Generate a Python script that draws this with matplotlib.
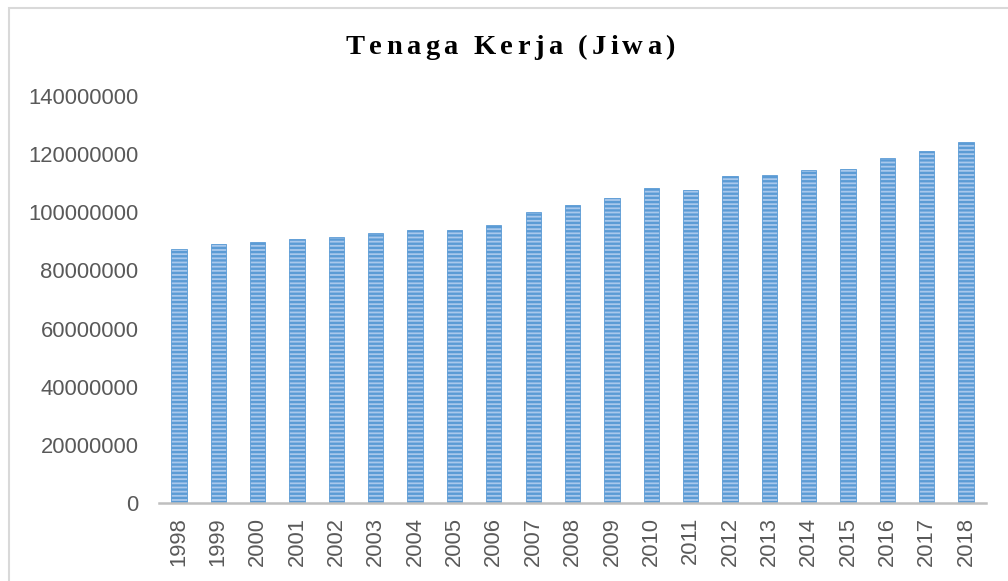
import matplotlib
matplotlib.use("Agg")
import matplotlib.pyplot as plt
from matplotlib.patches import Rectangle
from matplotlib.font_manager import FontProperties

years = ["1998", "1999", "2000", "2001", "2002", "2003", "2004", "2005", "2006",
         "2007", "2008", "2009", "2010", "2011", "2012", "2013", "2014", "2015",
         "2016", "2017", "2018"]
tenaga_kerja = [87200000, 89000000, 89900000, 90700000, 91600000, 92900000,
                93800000, 93800000, 95500000, 100000000, 102600000, 104900000,
                108400000, 107600000, 112400000, 112800000, 114600000, 115000000,
                118600000, 121200000, 124300000]
y_ticks = [0, 20000000, 40000000, 60000000, 80000000, 100000000, 120000000, 140000000]
title = "Tenaga Kerja (Jiwa)"

plt.rcParams["hatch.linewidth"] = 1.7

W, H = 1008, 581
fig = plt.figure(figsize=(W / 100, H / 100), dpi=100)
ax = fig.add_axes([0.158, 0.134, 0.820, 0.701])

x = list(range(len(years)))
ax.bar(x, tenaga_kerja, width=0.39, color="#a9c8ec", edgecolor="#5b9bd5",
       linewidth=0.6, hatch="----")

ax.set_xlim(-0.5, len(years) - 0.5)
ax.set_ylim(0, 140000000)
ax.set_yticks(y_ticks)
ax.set_yticklabels([str(v) for v in y_ticks])
ax.set_xticks(x)
ax.set_xticklabels(years, rotation=90)

for s in ["top", "right", "left"]:
    ax.spines[s].set_visible(False)
ax.spines["bottom"].set_color("#bfbfbf")
ax.spines["bottom"].set_linewidth(1.8)
ax.tick_params(axis="both", length=0, colors="#595959", labelsize=15.8)
ax.tick_params(axis="y", pad=15)
ax.tick_params(axis="x", pad=10)
for lab in ax.get_xticklabels() + ax.get_yticklabels():
    lab.set_fontfamily("Liberation Sans")

# letter-spaced title, placed character by character
prop = FontProperties(family="Liberation Serif", weight="bold", size=20.5)
renderer = fig.canvas.get_renderer()


def text_width(s):
    w, _, _ = renderer.get_text_width_height_descent(s, prop, ismath=False)
    return w


space_w = text_width("a a") - text_width("aa")
chars = list(title)
widths = [space_w if c == " " else text_width(c) for c in chars]
x_start, x_end = 346, 675
gap = (x_end - x_start - sum(widths)) / (len(chars) - 1)
cx = x_start
for c, w in zip(chars, widths):
    if c != " ":
        fig.text(cx / W, 1 - 48 / H, c, ha="left", va="center",
                 fontproperties=prop, color="#000000")
    cx += w + gap

# outer chart border (left and top visible)
fig.patches.append(Rectangle((9 / W, -0.05), 1.1, 1 - 8 / H + 0.05,
                             transform=fig.transFigure, fill=False,
                             edgecolor="#d9d9d9", linewidth=1.5))

fig.savefig("out.png", dpi=100)
